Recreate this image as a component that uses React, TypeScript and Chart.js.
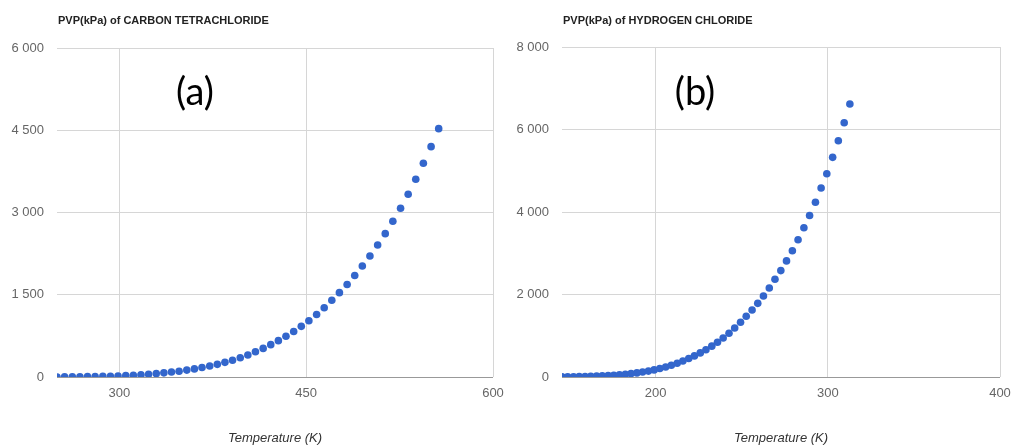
import React, { useEffect, useRef } from "react";
import { Chart, registerables } from "chart.js";

Chart.register(...registerables);

// ---- Data: carbon tetrachloride ----
const ccl4Temps = [
  250.0, 256.1, 262.3, 268.4, 274.5, 280.6, 286.8, 292.9, 299.0, 305.2,
  311.3, 317.4, 323.5, 329.7, 335.8, 341.9, 348.0, 354.2, 360.3, 366.4,
  372.6, 378.7, 384.8, 390.9, 397.1, 403.2, 409.3, 415.5, 421.6, 427.7,
  433.8, 440.0, 446.1, 452.2, 458.4, 464.5, 470.6, 476.7, 482.9, 489.0,
  495.1, 501.2, 507.4, 513.5, 519.6, 525.8, 531.9, 538.0, 544.1, 550.3,
  556.4,
];
const ccl4Pressure = [
  1, 2, 3, 4, 6, 8, 11, 15, 19, 25,
  32, 40, 50, 62, 76, 90, 106, 126, 148, 172,
  200, 231, 267, 306, 352, 402, 460, 522, 590, 663,
  742, 830, 924, 1027, 1140, 1262, 1400, 1538, 1688, 1852,
  2025, 2207, 2408, 2614, 2840, 3077, 3332, 3606, 3898, 4201,
  4529,
];
const ccl4XTicks = [300, 450, 600];

// ---- Data: hydrogen chloride ----
const hclTemps = [
  145.6, 148.9, 152.3, 155.6, 159.0, 162.3, 165.7, 169.0, 172.4, 175.7,
  179.0, 182.4, 185.7, 189.1, 192.4, 195.8, 199.1, 202.4, 205.8, 209.1,
  212.5, 215.8, 219.2, 222.5, 225.9, 229.2, 232.6, 235.9, 239.2, 242.6,
  245.9, 249.3, 252.6, 256.0, 259.3, 262.6, 266.0, 269.3, 272.7, 276.0,
  279.4, 282.7, 286.1, 289.4, 292.8, 296.1, 299.4, 302.8, 306.1, 309.5,
  312.8,
];
const hclPressure = [
  3, 4, 6, 9, 12, 16, 21, 27, 35, 44,
  55, 68, 83, 100, 120, 143, 172, 205, 243, 286,
  334, 388, 447, 512, 584, 662, 748, 842, 945, 1060,
  1188, 1326, 1471, 1624, 1786, 1963, 2157, 2368, 2580, 2815,
  3062, 3328, 3619, 3915, 4235, 4581, 4928, 5325, 5728, 6164,
  6618,
];
const hclXTicks = [200, 300, 400];

const fmt = (v: number) =>
  String(v).replace(/\B(?=(\d{3})+(?!\d))/g, " ");

type PanelProps = {
  left: number;
  width: number;
  title: string;
  label: string;
  labelDx: number;
  temps: number[];
  pressures: number[];
  xMin: number;
  xMax: number;
  xTicks: number[];
  yMax: number;
  yStep: number;
  rightPad: number;
  topPad: number;
};

function Panel(p: PanelProps) {
  const ref = useRef<HTMLCanvasElement | null>(null);
  useEffect(() => {
    if (!ref.current) return;
    const annot = {
      id: "annot",
      afterDraw(chart: any) {
        const ctx = chart.ctx;
        const a = chart.chartArea;
        ctx.save();
        ctx.font = 'bold 11px "Liberation Sans", Arial, sans-serif';
        ctx.fillStyle = "#222";
        ctx.textBaseline = "middle";
        ctx.textAlign = "left";
        ctx.fillText(p.title, a.left + 1, 21);
        ctx.font = '38px Lato, "Open Sans", sans-serif';
        ctx.fillStyle = "#000";
        ctx.textAlign = "center";
        ctx.fillText(p.label, a.left + p.labelDx, 93);
        ctx.restore();
      },
    };
    const chart = new Chart(ref.current, {
      type: "scatter",
      data: {
        datasets: [
          {
            data: p.temps.map((t, i) => ({ x: t, y: p.pressures[i] })),
            backgroundColor: "#3366cc",
            borderWidth: 0,
            pointRadius: 3.8,
            showLine: false,
          },
        ],
      },
      options: {
        animation: false,
        responsive: true,
        maintainAspectRatio: false,
        layout: { padding: { top: p.topPad, right: p.rightPad, left: 0, bottom: 0 } },
        plugins: { legend: { display: false }, tooltip: { enabled: false } },
        scales: {
          x: {
            type: "linear",
            min: p.xMin,
            max: p.xMax,
            afterBuildTicks: (axis: any) => {
              axis.ticks = p.xTicks.map((v) => ({ value: v }));
            },
            afterFit: (scale: any) => {
              scale.height = 69;
              scale.paddingLeft = 0;
              scale.paddingRight = 0;
            },
            border: { display: false },
            grid: { color: "#d6d6d6", drawTicks: false },
            ticks: {
              padding: 9,
              color: "#666",
              font: { family: '"Liberation Sans", Arial, sans-serif', size: 13 },
              maxRotation: 0,
              callback: (v: any) => fmt(Number(v)),
            },
            title: {
              display: true,
              text: "Temperature (K)",
              color: "#333",
              font: { family: '"Liberation Sans", Arial, sans-serif', size: 13, style: "italic" },
              padding: { top: 0, bottom: 0 },
            },
          },
          y: {
            min: 0,
            max: p.yMax,
            afterFit: (scale: any) => {
              scale.width = 57;
            },
            border: { display: false },
            grid: {
              drawTicks: false,
              color: (c: any) => (c.tick && c.tick.value === 0 ? "#999" : "#d6d6d6"),
            },
            ticks: {
              stepSize: p.yStep,
              padding: 13,
              color: "#666",
              font: { family: '"Liberation Sans", Arial, sans-serif', size: 13 },
              callback: (v: any) => fmt(Number(v)),
            },
          },
        },
      },
      plugins: [annot],
    });
    return () => chart.destroy();
  }, []);
  return (
    <div
      style={{
        position: "absolute",
        left: p.left,
        top: 0,
        width: p.width,
        height: 446,
      }}
    >
      <canvas ref={ref} />
    </div>
  );
}

export default function App() {
  return (
    <div
      style={{
        position: "fixed",
        left: 0,
        top: 0,
        width: 1013,
        height: 446,
        background: "#fff",
      }}
    >
      <Panel
        left={0}
        width={505}
        title="PVP(kPa) of CARBON TETRACHLORIDE"
        label="(a)"
        labelDx={138}
        temps={ccl4Temps}
        pressures={ccl4Pressure}
        xMin={250}
        xMax={600}
        xTicks={ccl4XTicks}
        yMax={6000}
        yStep={1500}
        rightPad={12}
        topPad={48}
      />
      <Panel
        left={505}
        width={508}
        title="PVP(kPa) of HYDROGEN CHLORIDE"
        label="(b)"
        labelDx={133}
        temps={hclTemps}
        pressures={hclPressure}
        xMin={145.6}
        xMax={400}
        xTicks={hclXTicks}
        yMax={8000}
        yStep={2000}
        rightPad={13}
        topPad={47}
      />
    </div>
  );
}
